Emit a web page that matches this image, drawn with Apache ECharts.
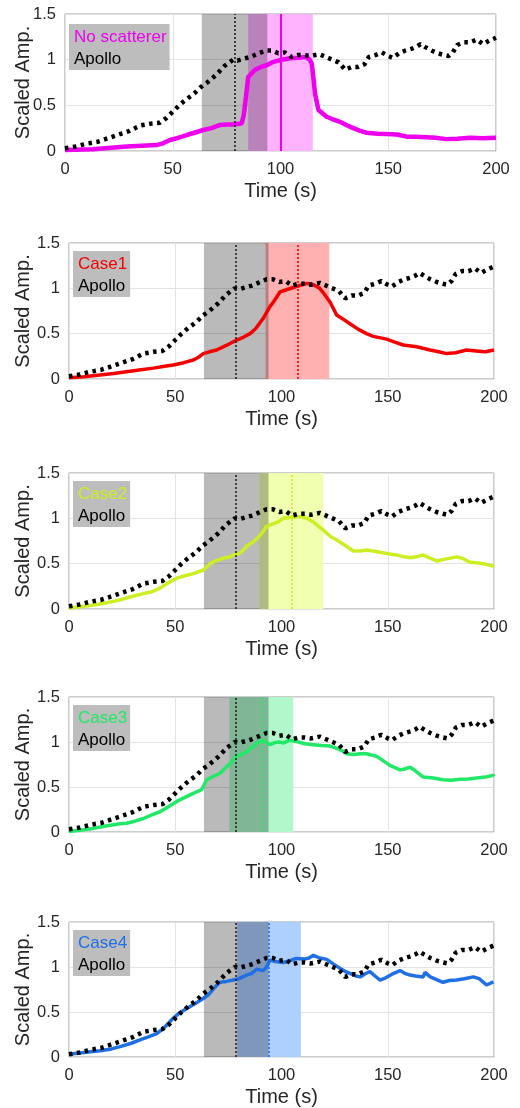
<!DOCTYPE html>
<html>
<head>
<meta charset="utf-8">
<script src="https://cdn.jsdelivr.net/npm/echarts@6/dist/echarts.min.js"></script>
<style>
html,body{margin:0;padding:0;background:#fff;}
#chart{width:520px;height:1108px;}
</style>
</head>
<body>
<div id="chart"></div>
<script>
// ---------- data ----------
const apolloT = [0,5,10,15,20,25,30,35,40,44,47,50,53,56,60,63,66,70,74,78,80,83,86,89,93,96,99,102,105,108,111,114,118,121,124,127,130,133,136,139,141,144,147,150,152,155,158,161,163,165,167,170,173,176,178,180,182,185,188,191,194,197,200];
const apolloV = [0.03,0.05,0.08,0.10,0.14,0.18,0.22,0.28,0.30,0.31,0.36,0.43,0.50,0.56,0.63,0.70,0.75,0.83,0.93,1.00,0.99,1.01,1.03,1.06,1.10,1.10,1.07,1.08,1.03,1.05,1.05,1.04,1.06,1.03,1.00,0.97,0.89,0.92,0.92,0.95,1.03,1.05,1.08,1.04,1.02,1.07,1.10,1.12,1.14,1.17,1.14,1.10,1.07,1.05,1.04,1.08,1.16,1.19,1.19,1.22,1.17,1.21,1.24];

const noScatT = [0,13,28.6,42.5,45,48.7,52,56.5,60,64.2,68,72,75,78,82,83,84,85,88.2,91,93.6,96,99,104.4,108,112,113.5,114.5,115.5,116,117.6,121.4,124,127.6,131,133.8,137,140,145,149.3,154,158.5,163,167.8,172,177,182,188,194,200];
const noScatV = [0.01,0.02,0.05,0.065,0.08,0.12,0.14,0.175,0.20,0.23,0.25,0.285,0.29,0.29,0.30,0.40,0.60,0.81,0.89,0.92,0.94,0.97,0.99,1.015,1.02,1.03,1.00,0.96,0.75,0.63,0.45,0.375,0.35,0.32,0.28,0.25,0.22,0.20,0.19,0.185,0.18,0.157,0.155,0.15,0.145,0.13,0.135,0.145,0.14,0.145];

const case1T = [0,7,14.6,21,27,33,39.7,45,49,54,58.5,61,63.2,66,69.5,74,78.9,82,85.2,88,91.4,94.6,96.2,99.3,103,107,111.9,115,118,120,122.8,126,129,132.2,136,140,143.2,149.5,153,157.3,163.6,169.9,174,177.7,182,187,191.6,196,200];
const case1V = [0.015,0.025,0.045,0.06,0.08,0.10,0.12,0.14,0.155,0.18,0.21,0.24,0.28,0.30,0.32,0.37,0.43,0.46,0.50,0.56,0.67,0.80,0.85,0.96,0.99,1.02,1.055,1.04,1.00,0.94,0.85,0.705,0.66,0.61,0.55,0.50,0.47,0.44,0.41,0.375,0.355,0.32,0.30,0.28,0.29,0.32,0.31,0.30,0.32];

const case2T = [0,5,11.4,18,24,30,35,39,42.8,46,50.7,55,58.5,63.2,66.4,69,72.6,75,77.3,80,82,84,86.7,89.9,93,95,98.5,100.8,104,108.7,112,115,117,119.7,123,126,130,133.8,137,140,143,146.4,150,154.2,157,160.5,164,166.7,170,173,177,182.4,185,188.7,192,195,198.9,200];
const case2V = [0.01,0.025,0.045,0.07,0.10,0.14,0.17,0.19,0.23,0.28,0.34,0.37,0.39,0.43,0.50,0.53,0.56,0.57,0.595,0.61,0.65,0.70,0.74,0.81,0.91,0.93,0.96,1.00,1.01,1.02,1.00,0.96,0.92,0.87,0.80,0.76,0.70,0.64,0.64,0.65,0.64,0.625,0.61,0.595,0.58,0.565,0.58,0.595,0.56,0.53,0.55,0.575,0.56,0.515,0.51,0.50,0.475,0.48];

const case3T = [0,5,11.4,18,23,27,31,35,39,42.8,46,50.7,55,58.5,62.4,64.8,68,71,73,75.8,78.9,81,83.6,86,88.3,90.7,92.5,94.6,96.5,98.5,101,104,108,111,115,119,122.8,126,128,130.7,134,137,140,144.8,148,151,155.8,158,160.5,163,166.7,171.4,176,180,184,188,191.8,196,199.7,200];
const case3V = [0.005,0.02,0.04,0.07,0.09,0.097,0.12,0.15,0.19,0.225,0.27,0.34,0.39,0.43,0.47,0.58,0.62,0.65,0.70,0.76,0.84,0.86,0.89,0.94,0.985,1.02,1.00,0.97,0.99,1.00,0.99,1.02,1.00,0.98,0.97,0.96,0.955,0.93,0.91,0.87,0.86,0.87,0.87,0.84,0.79,0.74,0.69,0.70,0.72,0.68,0.61,0.60,0.58,0.575,0.585,0.59,0.60,0.61,0.63,0.62];

const case4T = [0,7,14.6,20,24,29,33.4,37,41.3,45,49,52,55.4,59,63.2,66,68,71,74,77.3,80,83.6,86,88.3,91.4,93,94.6,97,100.8,104,107,111,113,115,118,121.3,124,127.5,130,132.2,135,137,139,141.6,144,146.4,149,152,155.8,158,160.5,163,166.7,167.5,170,173,176,179,182.4,186,190.3,193,196.5,199.7];
const case4V = [0.03,0.05,0.07,0.09,0.115,0.15,0.19,0.22,0.26,0.33,0.43,0.49,0.54,0.59,0.65,0.70,0.76,0.83,0.84,0.855,0.87,0.91,0.93,0.975,0.96,1.00,1.08,1.06,1.05,1.07,1.095,1.09,1.10,1.13,1.10,1.085,1.04,0.985,0.95,0.93,0.90,0.89,0.92,0.95,0.90,0.855,0.88,0.92,0.96,0.93,0.91,0.90,0.89,0.94,0.89,0.86,0.83,0.85,0.855,0.87,0.89,0.87,0.80,0.835];

const caseNames = ['No scatterer','Case1','Case2','Case3','Case4'];
const caseColors = ['#EE00EE','#F40000','#CCEE22','#22E868','#1F6FE5'];
const shadeColors = ['#FFB3FF','#FFB0B0','#F0FFB0','#B0F8CC','#AED0FF'];
const apolloCenter = 78.7;
const caseCenters = [100, 107.5, 104.7, 90.5, 94.1];
const halfWindow = 15;
const xTicks = {min:0, max:200, interval:50};
const yTicks = {min:0, max:1.5, interval:0.5};

const caseT = [noScatT, case1T, case2T, case3T, case4T];
const caseV = [noScatV, case1V, case2V, case3V, case4V];

// ---------- layout ----------
const FONT = 'Liberation Sans';
const grids = [
  {left:65, right:24, top:14, height:137},
  {left:69, right:26, top:243, height:136},
  {left:69, right:26, top:473, height:136},
  {left:69, right:26, top:697, height:135},
  {left:69, right:26, top:922, height:135}
];
const zip = (t,v) => t.map((x,i)=>[x, v[i]]);

const option = {
  animation:false,
  backgroundColor:'#ffffff',
  grid: grids.map(g => Object.assign({show:true, borderColor:'#9a9a9a', borderWidth:1, backgroundColor:'transparent'}, g)),
  xAxis: grids.map((g,i)=>({
    type:'value', gridIndex:i, min:xTicks.min, max:xTicks.max, interval:xTicks.interval,
    axisLine:{show:false}, axisTick:{show:false},
    splitLine:{show:true, lineStyle:{color:'#E3E3E3', width:1}},
    axisLabel:{fontFamily:FONT, fontSize:16.5, color:'#262626', margin:10},
    name:'Time (s)', nameLocation:'middle', nameGap:30, nameMoveOverlap:false,
    nameTextStyle:{fontFamily:FONT, fontSize:20, color:'#262626'}
  })),
  yAxis: grids.map((g,i)=>({
    type:'value', gridIndex:i, min:yTicks.min, max:yTicks.max, interval:yTicks.interval,
    axisLine:{show:false}, axisTick:{show:false},
    splitLine:{show:true, lineStyle:{color:'#E3E3E3', width:1}},
    axisLabel:{fontFamily:FONT, fontSize:16.5, color:'#262626', margin:9},
    name:'Scaled Amp.', nameLocation:'middle', nameGap: i===0 ? 32 : 36, nameMoveOverlap:false,
    nameTextStyle:{fontFamily:FONT, fontSize:20, color:'#262626'}
  })),
  legend: grids.map((g,i)=>({
    left: i===0 ? 69 : 73, top: g.top + (i===0 ? 10 : 8),
    orient:'vertical', icon:'none', itemWidth:0, itemHeight:20, itemGap:4,
    padding:[3,3,2,0], backgroundColor:'#BDBDBD', borderRadius:0,
    selectedMode:false,
    textStyle:{fontFamily:FONT, fontSize:17},
    data:[{name:caseNames[i], textStyle:{color:caseColors[i]}},
          {name:'Apollo', textStyle:{color:'#000000'}}]
  })),
  series: []
};

caseNames.forEach((nm,i)=>{
  // colored window
  option.series.push({
    type:'line', xAxisIndex:i, yAxisIndex:i, data:[], silent:true, z:1,
    markArea:{silent:true, z:1, itemStyle:{color:shadeColors[i]},
      data:[[{xAxis:caseCenters[i]-halfWindow},{xAxis:caseCenters[i]+halfWindow}]]}
  });
  // Apollo window (gray, semi-transparent, over the colored one)
  option.series.push({
    type:'line', xAxisIndex:i, yAxisIndex:i, data:[], silent:true, z:2,
    markArea:{silent:true, z:2, itemStyle:{color:'rgba(0,0,0,0.27)'},
      data:[[{xAxis:apolloCenter-15.2},{xAxis:apolloCenter+15.2}]]}
  });
  // case curve
  option.series.push({
    name:nm, type:'line', xAxisIndex:i, yAxisIndex:i, z:4,
    data: zip(caseT[i], caseV[i]), showSymbol:false, smooth:false,
    lineStyle:{color:caseColors[i], width: i===0 ? 4.5 : 3.5},
    itemStyle:{color:caseColors[i]},
    markLine:{silent:true, symbol:'none', z:5, label:{show:false},
      lineStyle:{color:caseColors[i], width: i===0 ? 2 : 1.6, type: i===0 ? 'solid' : [2,2]},
      data:[{xAxis:caseCenters[i]}]}
  });
  // Apollo curve
  option.series.push({
    name:'Apollo', type:'line', xAxisIndex:i, yAxisIndex:i, z:5,
    data: zip(apolloT, apolloV), showSymbol:false,
    lineStyle:{color:'#000000', width:4.5, type:[3.5,4.5], cap:'butt'},
    itemStyle:{color:'#000000'},
    markLine:{silent:true, symbol:'none', z:6, label:{show:false},
      lineStyle:{color:'#222222', width:1.6, type:[2,2]},
      data:[{xAxis:apolloCenter}]}
  });
});

const chart = echarts.init(document.getElementById('chart'), null, {renderer:'canvas'});
chart.setOption(option);
</script>
</body>
</html>
